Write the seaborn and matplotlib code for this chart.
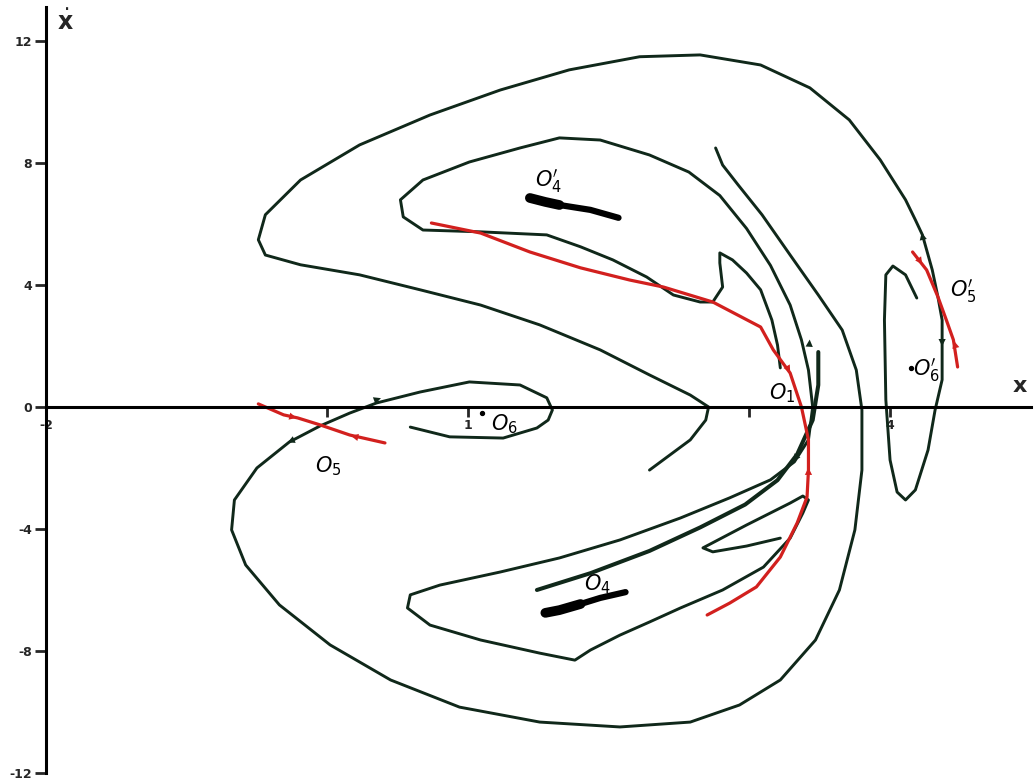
import matplotlib
matplotlib.use("Agg")
import matplotlib.pyplot as plt
import seaborn as sns

# traced curves of the phase portrait, (x, xdot)
upper_x = [4.19, 4.11, 4.02, 3.97, 3.96, 3.97, 4.00, 4.05, 4.11, 4.18, 4.27, 4.32, 4.37, 4.37, 4.37,
           4.34, 4.30, 4.23, 4.18, 4.11, 3.93, 3.71, 3.43, 3.08, 2.65, 2.22, 1.72, 1.23, 0.73, 0.23,
           -0.19, -0.44, -0.49, -0.44, -0.19, 0.23, 0.66, 1.09, 1.51, 1.94, 2.29, 2.58, 2.71, 2.69,
           2.58, 2.29]
upper_y = [3.57, 4.33, 4.62, 4.33, 2.85, 0.23, -1.74, -2.79, -3.05, -2.72, -1.41, -0.10, 0.89, 2.10, 2.85,
           3.61, 4.49, 5.64, 6.13, 6.79, 8.10, 9.41, 10.46, 11.21, 11.54, 11.48, 11.05, 10.39, 9.57, 8.59,
           7.44, 6.30, 5.48, 4.98, 4.66, 4.33, 3.84, 3.34, 2.69, 1.87, 1.05, 0.39, 0.0, -0.43,
           -1.08, -2.07]

inner_x = [3.22, 3.20, 3.16, 3.08, 2.98, 2.88, 2.79, 2.79, 2.81, 2.74, 2.65, 2.46, 2.27, 2.03, 1.80,
           1.56, 1.09, 0.68, 0.54, 0.52, 0.68, 1.01, 1.37, 1.65, 1.94, 2.29, 2.57, 2.79, 2.98, 3.15,
           3.29, 3.37, 3.42, 3.45, 3.42, 3.32, 3.15, 2.86, 2.51, 2.08, 1.65, 1.23, 0.80, 0.59, 0.57, 0.73,
           1.09, 1.51, 1.76, 1.87, 2.08, 2.29, 2.51, 2.81, 3.10, 3.29, 3.38, 3.42, 3.38, 3.29, 2.98,
           2.67, 2.74, 2.98, 3.22]
inner_y = [1.28, 2.03, 2.85, 3.84, 4.39, 4.82, 5.05, 4.72, 3.93, 3.44, 3.44, 3.67, 4.26, 4.82, 5.25,
           5.64, 5.74, 5.80, 6.23, 6.79, 7.44, 8.03, 8.49, 8.82, 8.75, 8.26, 7.70, 6.93, 5.85, 4.64,
           3.34, 2.20, 1.21, 0.0, -1.08, -1.80, -2.39, -2.98, -3.64, -4.36, -4.95, -5.41, -5.84, -6.16, -6.59, -7.15,
           -7.64, -8.07, -8.30, -7.97, -7.48, -7.05, -6.59, -6.00, -5.25, -4.30, -3.48, -3.05, -2.92, -3.15, -3.87,
           -4.62, -4.75, -4.56, -4.30]

fold_x = [1.49, 1.87, 2.29, 2.65, 2.97, 3.20, 3.34, 3.45, 3.49, 3.49]
fold_y = [-6.00, -5.45, -4.72, -3.95, -3.20, -2.40, -1.55, -0.43, 0.72, 1.80]

lower_x = [0.59, 0.87, 1.25, 1.49, 1.57, 1.60, 1.56, 1.37, 1.01, 0.66, 0.35, 0.16, -0.05, -0.27, -0.50,
           -0.66, -0.68, -0.58, -0.34, 0.02, 0.45, 0.94, 1.51, 2.08, 2.58, 2.93, 3.22, 3.47, 3.64, 3.75,
           3.80, 3.80, 3.76, 3.66, 3.49, 3.29, 3.09, 2.92, 2.81, 2.76]
lower_y = [-0.66, -0.98, -1.02, -0.69, -0.43, -0.10, 0.30, 0.72, 0.82, 0.49, 0.13, -0.20, -0.62, -1.15, -2.00,
           -3.05, -4.03, -5.18, -6.49, -7.80, -8.95, -9.84, -10.33, -10.49, -10.33, -9.77, -8.95, -7.64, -6.00, -4.03,
           -2.07, -0.10, 1.21, 2.52, 3.67, 4.98, 6.30, 7.28, 7.93, 8.49]

red_o1_x = [0.74, 1.09, 1.44, 1.80, 2.15, 2.39, 2.74, 3.08, 3.17, 3.29, 3.37, 3.42, 3.42, 3.41, 3.34,
            3.22, 3.05, 2.86, 2.70]
red_o1_y = [6.03, 5.70, 5.08, 4.56, 4.16, 3.93, 3.44, 2.62, 1.87, 1.11, 0.0, -1.08, -2.07, -2.95, -3.80,
            -4.92, -5.90, -6.43, -6.82]
red_o5p_x = [4.16, 4.26, 4.34, 4.40, 4.45, 4.48]
red_o5p_y = [5.08, 4.49, 3.61, 2.85, 2.20, 1.31]
red_o5_x = [-0.49, -0.31, -0.21, -0.05, 0.16, 0.41]
red_o5_y = [0.10, -0.26, -0.36, -0.59, -0.92, -1.18]

blob_top_x = [1.44, 1.55, 1.65, 1.87, 2.07]
blob_top_y = [6.85, 6.72, 6.62, 6.46, 6.20]
blob_low_x = [1.55, 1.65, 1.80, 1.94, 2.12]
blob_low_y = [-6.75, -6.66, -6.46, -6.26, -6.07]

# arrow heads: tail -> head
black_arrows = [((4.25, 5.2), (4.22, 5.8)), ((4.37, 2.4), (4.37, 1.9)), ((3.42, 1.6), (3.43, 2.3)),
                ((3.38, -1.35), (3.30, -1.85)), ((0.30, 0.15), (0.40, 0.32)), ((-0.20, -1.0), (-0.30, -1.2))]
red_arrows = [((3.22, 1.7), (3.30, 1.05)), ((3.42, -2.5), (3.42, -1.9)), ((4.18, 5.0), (4.24, 4.6)),
              ((4.48, 1.7), (4.45, 2.25)), ((-0.36, -0.20), (-0.20, -0.38)), ((0.34, -1.12), (0.15, -0.93))]

labels = [r"$O^{\prime}_4$", r"$O_4$", r"$O_5$", r"$O^{\prime}_5$", r"$O^{\prime}_6$", r"$O_6$", r"$O_1$"]
label_x = [1.57, 1.92, 0.01, 4.52, 4.26, 1.26, 3.23]
label_y = [7.40, -5.80, -1.95, 3.80, 1.20, -0.55, 0.45]
dot_x = [4.15, 1.10]
dot_y = [1.28, -0.20]

green = "#10281a"
red = "#d2201e"

sns.set_style("white")
plt.rcParams["axes.unicode_minus"] = False
plt.rcParams["mathtext.fontset"] = "dejavusans"

fig = plt.figure(figsize=(10.34, 7.84), dpi=100)
ax = fig.add_axes([0, 0, 1, 1])

for cx, cy in [(upper_x, upper_y), (inner_x, inner_y), (lower_x, lower_y)]:
    sns.lineplot(x=cx, y=cy, sort=False, estimator=None, color=green, lw=2.1, ax=ax)
sns.lineplot(x=fold_x, y=fold_y, sort=False, estimator=None, color=green, lw=2.9, ax=ax)
for cx, cy in [(red_o1_x, red_o1_y), (red_o5p_x, red_o5p_y), (red_o5_x, red_o5_y)]:
    sns.lineplot(x=cx, y=cy, sort=False, estimator=None, color=red, lw=2.3, ax=ax)

for bx, by in [(blob_top_x, blob_top_y), (blob_low_x, blob_low_y)]:
    ax.plot(bx[:3], by[:3], color="black", lw=7, solid_capstyle="round")
    ax.plot(bx[2:], by[2:], color="black", lw=4.5, solid_capstyle="round")

for arrows, col in [(black_arrows, green), (red_arrows, red)]:
    for tail, head in arrows:
        ax.annotate("", xy=head, xytext=tail,
                    arrowprops=dict(arrowstyle="-|>", color=col, lw=0, mutation_scale=13))

ax.scatter(dot_x, dot_y, s=8, color="black", zorder=5)
for t, lx, ly in zip(labels, label_x, label_y):
    ax.text(lx, ly, t, fontsize=15, ha="center", va="center", color="black")

ax.set_xlim(-2.326, 5.023)
ax.set_ylim(-12.36, 13.34)
for side in ["top", "right"]:
    ax.spines[side].set_visible(False)
ax.spines["left"].set_position(("data", -2))
ax.spines["bottom"].set_position(("data", 0))
ax.spines["left"].set_bounds(-12, 13.1)
ax.spines["bottom"].set_bounds(-2, 5.0)
for side in ["left", "bottom"]:
    ax.spines[side].set_linewidth(2.2)
    ax.spines[side].set_color("black")

ax.set_yticks([-12, -8, -4, 0, 4, 8, 12])
ax.set_yticklabels(["-12", "-8", "-4", "0", "4", "8", "12"], fontsize=9, fontweight="bold")
ax.set_xticks([-2, 1, 4])
ax.set_xticklabels(["-2", "1", "4"], fontsize=9, fontweight="bold")
ax.set_xticks([0, 3], minor=True)
ax.tick_params(axis="y", direction="out", length=8, width=2, pad=2, left=True)
ax.tick_params(axis="x", which="both", direction="out", length=7, width=2, pad=2, bottom=True)

ax.text(-1.86, 12.6, r"$\dot{\mathbf{x}}$", fontsize=17, ha="center", va="center")
ax.text(4.92, 0.70, "x", fontsize=16, fontweight="bold", ha="center", va="center")

fig.savefig("out.png", dpi=100, facecolor="white")
